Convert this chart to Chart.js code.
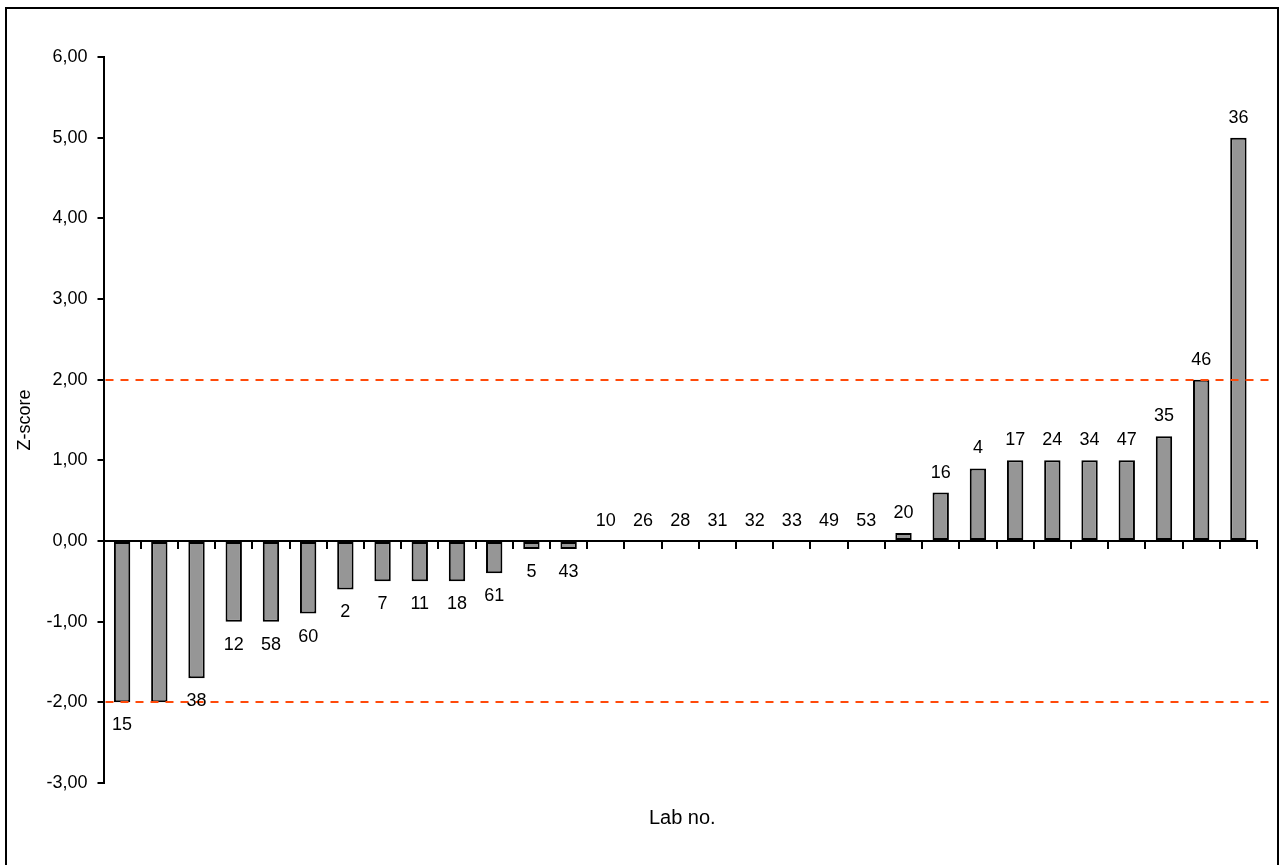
<!DOCTYPE html>
<html>
<head>
<meta charset="utf-8">
<script src="https://cdn.jsdelivr.net/npm/chart.js@4.4.0/dist/chart.umd.min.js"></script>
<style>
  html, body { margin: 0; padding: 0; background: #fff; overflow: hidden; }
  canvas { display: block; }
</style>
</head>
<body>
<canvas id="zChart" width="1281" height="865"></canvas>
<script>
// lab numbers in plotted order (second bar has no visible label)
const labNos = ['15', '', '38', '12', '58', '60', '2', '7', '11', '18', '61', '5', '43',
  '10', '26', '28', '31', '32', '33', '49', '53', '20', '16', '4', '17', '24', '34', '47',
  '35', '46', '36'];
const zScores = [-2.0, -2.0, -1.7, -1.0, -1.0, -0.9, -0.6, -0.5, -0.5, -0.5, -0.4, -0.1, -0.1,
  0, 0, 0, 0, 0, 0, 0, 0, 0.1, 0.6, 0.9, 1.0, 1.0, 1.0, 1.0,
  1.3, 2.0, 5.0];
const limits = [2, -2];
const yTicks = [-3, -2, -1, 0, 1, 2, 3, 4, 5, 6];

const FONT = '"Liberation Sans", Arial, sans-serif';

// frame, limit lines, bar labels and x title
const extras = {
  id: 'extras',
  beforeDraw(chart) {
    const c = chart.ctx;
    c.save();
    c.fillStyle = '#fff';
    c.fillRect(0, 0, chart.width, chart.height);
    c.strokeStyle = '#000';
    c.lineWidth = 2;
    c.strokeRect(6, 8, 1272, 900);
    c.restore();
  },
  afterDatasetsDraw(chart) {
    const c = chart.ctx;
    const area = chart.chartArea;
    const y = chart.scales.y;
    c.save();
    c.strokeStyle = '#ff4a0a';
    c.lineWidth = 2;
    c.setLineDash([8, 7]);
    limits.forEach(v => {
      const py = Math.round(y.getPixelForValue(v));
      c.beginPath();
      c.moveTo(area.left + 2, py);
      c.lineTo(1274, py);
      c.stroke();
    });
    c.setLineDash([]);

    c.fillStyle = '#000';
    c.font = '18px ' + FONT;
    c.textAlign = 'center';
    c.textBaseline = 'middle';
    chart.getDatasetMeta(0).data.forEach((bar, i) => {
      const v = zScores[i];
      const ty = v >= 0 ? bar.y - 20 : bar.y + 23;
      c.fillText(labNos[i], bar.x, ty);
    });

    c.font = '20px ' + FONT;
    c.fillText('Lab no.', (area.left + area.right) / 2 + 2, 818);
    c.restore();
  }
};

new Chart(document.getElementById('zChart'), {
  type: 'bar',
  data: {
    labels: labNos,
    datasets: [{
      data: zScores,
      backgroundColor: '#969696',
      borderColor: '#000',
      borderWidth: 2,
      borderSkipped: false,
      barPercentage: 0.44,
      categoryPercentage: 1
    }]
  },
  plugins: [extras],
  options: {
    responsive: false,
    animation: false,
    events: [],
    layout: { padding: { left: 6, right: 24, top: 57, bottom: 82 } },
    plugins: {
      legend: { display: false },
      tooltip: { enabled: false }
    },
    scales: {
      x: {
        type: 'category',
        position: { y: 0 },
        offset: true,
        grid: {
          offset: true,
          drawOnChartArea: false,
          drawTicks: true,
          tickLength: 7,
          color: '#000',
          lineWidth: 2
        },
        border: { color: '#000', width: 2 },
        ticks: { callback: () => '', font: { size: 1 } }
      },
      y: {
        min: -3,
        max: 6,
        afterBuildTicks(scale) {
          scale.ticks = yTicks.map(v => ({ value: v }));
        },
        afterFit(scale) {
          scale.width = 97.5;
        },
        grid: {
          drawOnChartArea: false,
          tickLength: 6,
          color: '#000',
          lineWidth: 2
        },
        border: { color: '#000', width: 2 },
        ticks: {
          padding: 10,
          color: '#000',
          font: { family: FONT, size: 18 },
          callback: v => v.toFixed(2).replace('.', ',')
        },
        title: {
          display: true,
          text: 'Z-score',
          color: '#000',
          font: { family: FONT, size: 18 },
          padding: { top: 8, bottom: 0 }
        }
      }
    }
  }
});
</script>
</body>
</html>
